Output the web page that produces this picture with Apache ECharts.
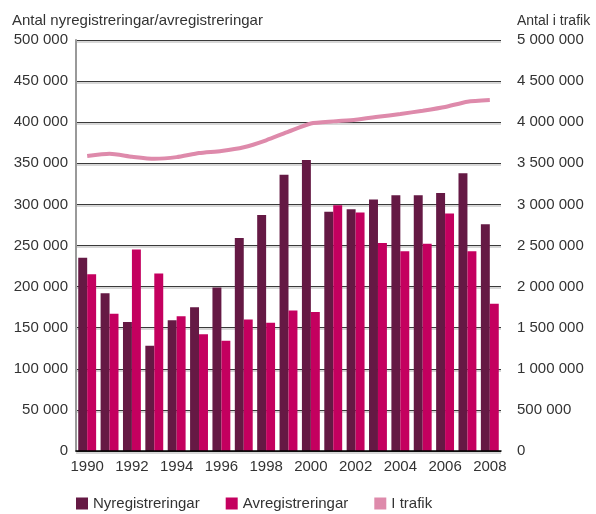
<!DOCTYPE html>
<html>
<head>
<meta charset="utf-8">
<script src="https://cdn.jsdelivr.net/npm/echarts@6/dist/echarts.min.js"></script>
<style>
  html, body { margin: 0; padding: 0; background: #fff; }
  #chart { width: 596px; height: 514px; }
</style>
</head>
<body>
<div id="chart"></div>
<script>
// år
var years = ['1990', '1991', '1992', '1993', '1994', '1995', '1996', '1997', '1998', '1999',
  '2000', '2001', '2002', '2003', '2004', '2005', '2006', '2007', '2008'];
// Nyregistreringar
var nyreg = [235000, 192000, 157000, 128000, 159000, 175000, 199000, 259000, 287000, 336000,
  354000, 291000, 294000, 306000, 311000, 311000, 314000, 338000, 276000];
// Avregistreringar
var avreg = [215000, 167000, 245000, 216000, 164000, 142000, 134000, 160000, 156000, 171000,
  169000, 299000, 290000, 253000, 243000, 252000, 289000, 243000, 179000];
// I trafik
var itrafik = [3590000, 3615000, 3580000, 3555000, 3575000, 3625000, 3650000, 3695000, 3780000, 3885000,
  3985000, 4010000, 4030000, 4065000, 4100000, 4140000, 4185000, 4250000, 4270000];

function fmt(v) {
  return String(v).replace(/\B(?=(\d{3})+(?!\d))/g, ' ');
}

var font = 'Liberation Sans, Arial, sans-serif';
var myChart = echarts.init(document.getElementById('chart'));

var option = {
  animation: false,
  textStyle: { fontFamily: font },
  grid: { left: 76, right: 95, top: 40, bottom: 63 },
  legend: {
    left: 71,
    top: 491,
    itemWidth: 12,
    itemHeight: 12,
    itemGap: 26,
    icon: 'rect',
    textStyle: { fontSize: 15, color: '#333', fontFamily: font },
    data: ['Nyregistreringar', 'Avregistreringar', 'I trafik']
  },
  xAxis: {
    type: 'category',
    data: years,
    z: 10,
    axisLine: { lineStyle: { color: '#000', width: 1.5 } },
    axisTick: { inside: true, length: 10, interval: 0, lineStyle: { color: '#000', width: 1.5 } },
    axisLabel: { interval: 1, fontSize: 15, color: '#333', margin: 8 }
  },
  yAxis: [
    {
      type: 'value',
      min: 0,
      max: 500000,
      interval: 50000,
      name: 'Antal nyregistreringar/avregistreringar',
      nameLocation: 'end',
      nameGap: 12,
      nameTextStyle: { align: 'left', padding: [0, 0, 0, -64], fontSize: 15, color: '#333' },
      axisLine: { show: true, lineStyle: { color: '#999', width: 2 } },
      axisTick: { show: false },
      axisLabel: { fontSize: 15, color: '#333', margin: 8, formatter: fmt },
      splitLine: {
        lineStyle: { color: '#3a3a3a', width: 1.2, shadowColor: '#b0b0b0', shadowOffsetY: 1.5, shadowBlur: 0 }
      }
    },
    {
      type: 'value',
      min: 0,
      max: 5000000,
      interval: 500000,
      name: 'Antal i trafik',
      nameLocation: 'end',
      nameGap: 12,
      nameTextStyle: { align: 'left', padding: [0, 0, 0, 16], fontSize: 14, color: '#333' },
      axisLine: { show: false },
      axisTick: { show: false },
      axisLabel: { fontSize: 15, color: '#333', margin: 16, formatter: fmt },
      splitLine: { show: false }
    }
  ],
  series: [
    {
      name: 'Nyregistreringar',
      type: 'bar',
      data: nyreg,
      barGap: '0%',
      barCategoryGap: '20%',
      itemStyle: { color: '#651944' }
    },
    {
      name: 'Avregistreringar',
      type: 'bar',
      data: avreg,
      itemStyle: { color: '#c4005f' }
    },
    {
      name: 'I trafik',
      type: 'line',
      yAxisIndex: 1,
      data: itrafik,
      symbol: 'none',
      smooth: 0.2,
      lineStyle: { color: '#de8aab', width: 4 },
      itemStyle: { color: '#de8aab' }
    }
  ]
};

myChart.setOption(option);
window.addEventListener('resize', function () {
  myChart.resize();
});
</script>
</body>
</html>
